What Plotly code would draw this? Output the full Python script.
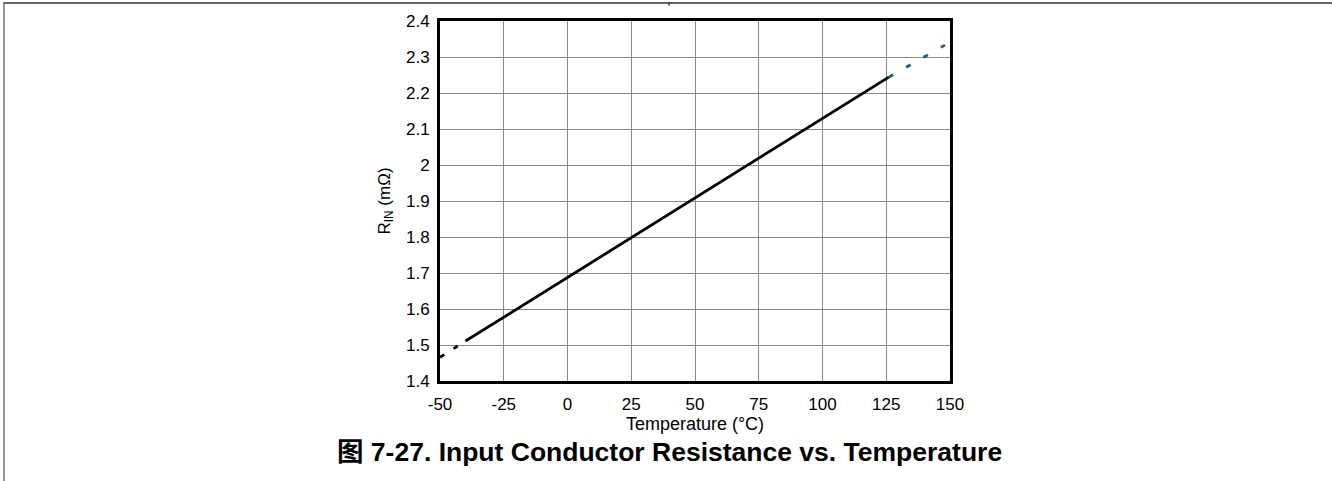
import plotly.graph_objects as go

# Data
temp_main = [-40, 126]
rin_main = [1.511, 2.244]
temp_low_ext = [-50, -40]
rin_low_ext = [1.466, 1.511]
temp_high_ext = [126, 148]
rin_high_ext = [2.244, 2.333]

x_ticks = [-50, -25, 0, 25, 50, 75, 100, 125, 150]
y_ticks = [1.4, 1.5, 1.6, 1.7, 1.8, 1.9, 2.0, 2.1, 2.2, 2.3, 2.4]
y_labels = ["1.4", "1.5", "1.6", "1.7", "1.8", "1.9", "2", "2.1", "2.2", "2.3", "2.4"]

font = "Liberation Sans, Arial, Noto Sans CJK SC"

L, R, T, B = 440, 382, 21, 100
W, H = 1332, 481
PW, PH = W - L - R, H - T - B

def px(x):
    return (x - L) / PW

def py(y):
    return (H - B - y) / PH

fig = go.Figure()
fig.add_trace(go.Scatter(x=temp_main, y=rin_main, mode="lines",
                         line=dict(color="black", width=2.8), showlegend=False))
fig.add_trace(go.Scatter(x=temp_low_ext, y=rin_low_ext, mode="lines",
                         line=dict(color="black", width=2.8, dash="5px,11px"), showlegend=False))
fig.add_trace(go.Scatter(x=temp_high_ext, y=rin_high_ext, mode="lines",
                         line=dict(color="#1b5e75", width=2.8, dash="5px,15px"), showlegend=False))

fig.update_xaxes(range=[-50, 150], tickvals=x_ticks, ticktext=[str(v) for v in x_ticks],
                 showgrid=True, gridcolor="#888888", gridwidth=1,
                 showline=True, linecolor="black", linewidth=3, mirror=True,
                 ticks="", zeroline=False, ticklabelstandoff=6,
                 tickfont=dict(family=font, size=17, color="black"),
                 title=dict(text="Temperature (°C)", font=dict(family=font, size=18, color="black"),
                            standoff=0))
fig.update_yaxes(range=[1.4, 2.4], tickvals=y_ticks, ticktext=y_labels,
                 showgrid=True, gridcolor="#888888", gridwidth=1,
                 showline=True, linecolor="black", linewidth=3, mirror=True,
                 ticks="", zeroline=False, ticklabelstandoff=4,
                 tickfont=dict(family=font, size=17, color="black"),
                 title=dict(text="R<sub>IN</sub> (mΩ)", font=dict(family=font, size=17, color="black"),
                            standoff=12))

# page frame
fig.add_shape(type="line", xref="paper", yref="paper", x0=px(3.5), x1=px(W + 5),
              y0=py(3), y1=py(3), line=dict(color="#333333", width=1.6))
fig.add_shape(type="line", xref="paper", yref="paper", x0=px(4), x1=px(4),
              y0=py(H + 5), y1=py(2.5), line=dict(color="#6a6a6a", width=1.4))
fig.add_shape(type="line", xref="paper", yref="paper", x0=px(669), x1=px(669),
              y0=py(2), y1=py(6), line=dict(color="#333333", width=1.2))

fig.add_annotation(text="<b>图 7-27. Input Conductor Resistance vs. Temperature</b>",
                   xref="paper", yref="paper", x=px(669.5), y=py(452),
                   xanchor="center", yanchor="middle", showarrow=False,
                   font=dict(family=font, size=26.5, color="black"))

fig.update_layout(width=W, height=H, paper_bgcolor="white", plot_bgcolor="white",
                  margin=dict(l=L, r=R, t=T, b=B))

fig.write_html("out.html", config={"displayModeBar": False},
               post_script="document.body.style.margin='0px';")
